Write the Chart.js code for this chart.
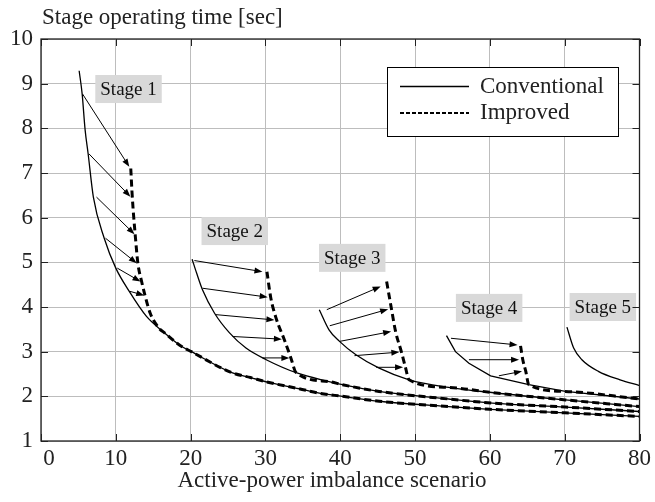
<!DOCTYPE html>
<html>
<head>
<meta charset="utf-8">
<title>Stage operating time</title>
<script src="https://cdn.jsdelivr.net/npm/chart.js@4.4.1/dist/chart.umd.min.js"></script>
<style>
  html, body { margin: 0; padding: 0; background: #fff; }
</style>
</head>
<body>
<canvas id="chartEtapas" width="655" height="502"></canvas>
<script>
const FONT = '"Liberation Serif", "Times New Roman", serif';

// --- conventional curves (solid), one per stage ---
const stage1X = [5.1, 5.5, 5.9, 6.3, 7.0, 8.45, 10.0, 11.8, 14.1, 16.3, 18.5, 20.1, 25.5, 28, 30.5, 34.5, 37.2, 40.3, 45.2, 54.5, 60, 70, 80];
const stage1Conv = [9.29, 8.77, 7.96, 7.43, 6.46, 5.54, 4.87, 4.35, 3.79, 3.45, 3.15, 3.0, 2.53, 2.42, 2.31, 2.17, 2.07, 2.0, 1.89, 1.77, 1.71, 1.63, 1.55];

const stage2X = [20.2, 20.8, 21.6, 23.2, 25.2, 27.4, 30.1, 34.1, 38.5, 40.3, 45.2, 54.5, 60.3, 70.1, 80];
const stage2Conv = [5.07, 4.76, 4.38, 3.86, 3.42, 3.08, 2.82, 2.53, 2.33, 2.26, 2.11, 1.94, 1.85, 1.76, 1.66];

const stage3X = [37.2, 38.5, 39.9, 42.1, 45.2, 49.2, 54.5, 60.5, 70.1, 80];
const stage3Conv = [3.94, 3.49, 3.23, 2.93, 2.63, 2.37, 2.20, 2.08, 1.92, 1.77];

const stage4X = [54.2, 55.4, 57.2, 60.1, 65.2, 70.1, 80];
const stage4Conv = [3.36, 3.0, 2.74, 2.46, 2.26, 2.11, 1.94];

const stage5X = [70.3, 71.2, 72.3, 74.5, 77.4, 80];
const stage5Conv = [3.55, 3.08, 2.82, 2.56, 2.37, 2.24];

// --- improved curves (dashed): shifted part, then they follow the conventional curve ---
const stage1ImpX = [12.0, 12.2, 12.6, 12.95, 13.45, 13.9, 14.6, 15.9];
const stage1Imp = [7.1, 6.47, 5.6, 4.98, 4.57, 4.26, 3.86, 3.5];

const stage2ImpX = [30.2, 30.7, 31.5, 32.5, 33.4, 34.1];
const stage2Imp = [4.79, 4.22, 3.71, 3.28, 2.86, 2.53];

const stage3ImpX = [46.2, 46.8, 47.4, 48.2, 48.7, 49.2];
const stage3Imp = [4.57, 4.0, 3.45, 2.98, 2.66, 2.37];

const stage4ImpX = [64.1, 64.4, 64.8, 65.2];
const stage4Imp = [3.13, 2.82, 2.56, 2.26];

// --- arrows: [x start, y start, x end, y end] ---
const stage1Arrows = [[5.55, 8.77, 11.8, 7.14], [6.4, 7.43, 11.95, 6.47], [7.42, 6.46, 12.5, 5.63],
                      [8.62, 5.54, 12.8, 4.98], [10.2, 4.87, 13.3, 4.57], [11.9, 4.35, 13.8, 4.26]];
const stage2Arrows = [[20.5, 5.04, 29.6, 4.79], [21.6, 4.42, 30.3, 4.22], [23.3, 3.83, 31.2, 3.71],
                      [25.6, 3.34, 32.2, 3.28], [29.6, 2.86, 33.2, 2.86]];
const stage3Arrows = [[38.2, 3.94, 45.4, 4.46], [38.6, 3.58, 46.4, 3.95], [39.9, 3.23, 46.8, 3.45],
                      [41.9, 2.91, 47.9, 2.99], [44.8, 2.65, 48.4, 2.65]];
const stage4Arrows = [[54.8, 3.30, 63.7, 3.15], [57.2, 2.82, 63.9, 2.82], [61.2, 2.46, 64.3, 2.56]];

// --- stage labels (centre in data units) ---
const stageNames = ['Stage 1', 'Stage 2', 'Stage 3', 'Stage 4', 'Stage 5'];
const stageLabelX = [11.7, 25.9, 41.6, 59.9, 75.1];
const stageLabelY = [8.88, 5.70, 5.10, 3.98, 4.0];

const xTicks = [0, 10, 20, 30, 40, 50, 60, 70, 80];
const yTicks = [1, 2, 3, 4, 5, 6, 7, 8, 9, 10];
const legendNames = ['Conventional', 'Improved'];
const yTitle = 'Stage operating time [sec]';
const xTitle = 'Active-power imbalance scenario';

function toPoints(xs, ys) {
    return xs.map(function(x, i) { return { x: x, y: ys[i] }; });
}

// dashed head + the rest of the conventional curve after the merge
function improvedPoints(headX, headY, convX, convY) {
    const pts = toPoints(headX, headY);
    const last = headX[headX.length - 1];
    convX.forEach(function(x, i) {
        if (x > last + 0.3) pts.push({ x: x, y: convY[i] });
    });
    return pts;
}

function solid(points, smooth) {
    return {
        data: points,
        borderColor: '#000',
        borderWidth: 1.3,
        pointRadius: 0,
        fill: false,
        cubicInterpolationMode: smooth ? 'monotone' : 'default',
        tension: 0
    };
}

function dashed(points) {
    return {
        data: points,
        borderColor: '#000',
        borderWidth: 3,
        borderDash: [7, 4],
        pointRadius: 0,
        fill: false,
        cubicInterpolationMode: 'monotone'
    };
}

const datasets = [
    solid(toPoints(stage1X, stage1Conv), true),
    solid(toPoints(stage2X, stage2Conv), true),
    solid(toPoints(stage3X, stage3Conv), true),
    solid(toPoints(stage4X, stage4Conv), false),
    solid(toPoints(stage5X, stage5Conv), true),
    dashed(improvedPoints(stage1ImpX, stage1Imp, stage1X, stage1Conv)),
    dashed(improvedPoints(stage2ImpX, stage2Imp, stage2X, stage2Conv)),
    dashed(improvedPoints(stage3ImpX, stage3Imp, stage3X, stage3Conv)),
    dashed(improvedPoints(stage4ImpX, stage4Imp, stage4X, stage4Conv))
];

const allArrows = stage1Arrows.concat(stage2Arrows, stage3Arrows, stage4Arrows);

function drawArrow(ctx, x0, y0, x1, y1) {
    const ang = Math.atan2(y1 - y0, x1 - x0);
    const len = 8, half = 3;
    ctx.beginPath();
    ctx.moveTo(x0, y0);
    ctx.lineTo(x1 - Math.cos(ang) * len * 0.8, y1 - Math.sin(ang) * len * 0.8);
    ctx.stroke();
    ctx.beginPath();
    ctx.moveTo(x1, y1);
    ctx.lineTo(x1 - Math.cos(ang) * len - Math.sin(ang) * half, y1 - Math.sin(ang) * len + Math.cos(ang) * half);
    ctx.lineTo(x1 - Math.cos(ang) * len + Math.sin(ang) * half, y1 - Math.sin(ang) * len - Math.cos(ang) * half);
    ctx.closePath();
    ctx.fill();
}

// arrows, stage labels, inward ticks, frame, legend and the axis titles
const decorPlugin = {
    id: 'decor',
    afterDatasetsDraw: function(chart) {
        const ctx = chart.ctx;
        const xs = chart.scales.x, ys = chart.scales.y;
        ctx.save();
        ctx.strokeStyle = '#000';
        ctx.fillStyle = '#000';
        ctx.lineWidth = 1;
        allArrows.forEach(function(a) {
            drawArrow(ctx, xs.getPixelForValue(a[0]), ys.getPixelForValue(a[1]),
                      xs.getPixelForValue(a[2]), ys.getPixelForValue(a[3]));
        });

        ctx.font = '19px ' + FONT;
        ctx.textAlign = 'center';
        ctx.textBaseline = 'middle';
        stageNames.forEach(function(name, i) {
            const cx = xs.getPixelForValue(stageLabelX[i]);
            const cy = ys.getPixelForValue(stageLabelY[i]);
            const w = ctx.measureText(name).width + 10;
            const h = 28;
            ctx.fillStyle = '#d9d9d9';
            ctx.fillRect(cx - w / 2, cy - h / 2, w, h);
            ctx.fillStyle = '#111';
            ctx.fillText(name, cx, cy + 1);
        });
        ctx.restore();
    },
    afterDraw: function(chart) {
        const ctx = chart.ctx;
        const area = chart.chartArea;
        const xs = chart.scales.x, ys = chart.scales.y;
        ctx.save();

        // inward tick marks on all four sides
        ctx.strokeStyle = '#222';
        ctx.lineWidth = 1;
        ctx.beginPath();
        xTicks.forEach(function(v) {
            const px = Math.round(xs.getPixelForValue(v)) + 0.5;
            ctx.moveTo(px, area.bottom); ctx.lineTo(px, area.bottom - 7);
            ctx.moveTo(px, area.top); ctx.lineTo(px, area.top + 7);
        });
        yTicks.forEach(function(v) {
            const py = Math.round(ys.getPixelForValue(v)) + 0.5;
            ctx.moveTo(area.left, py); ctx.lineTo(area.left + 7, py);
            ctx.moveTo(area.right, py); ctx.lineTo(area.right - 7, py);
        });
        ctx.stroke();

        // frame
        ctx.lineWidth = 1.3;
        ctx.strokeStyle = '#222';
        ctx.strokeRect(area.left, area.top, area.right - area.left, area.bottom - area.top);

        // legend
        const lx = 387, ly = 67, lw = 231, lh = 69;
        ctx.fillStyle = '#fff';
        ctx.fillRect(lx, ly, lw, lh);
        ctx.lineWidth = 1;
        ctx.strokeStyle = '#000';
        ctx.strokeRect(lx + 0.5, ly + 0.5, lw, lh);
        ctx.beginPath();
        ctx.lineWidth = 1.5;
        ctx.moveTo(400, 86.5); ctx.lineTo(469, 86.5);
        ctx.stroke();
        ctx.beginPath();
        ctx.lineWidth = 2;
        ctx.setLineDash([4, 2]);
        ctx.moveTo(400, 113); ctx.lineTo(469, 113);
        ctx.stroke();
        ctx.setLineDash([]);
        ctx.fillStyle = '#222';
        ctx.font = '23px ' + FONT;
        ctx.textAlign = 'left';
        ctx.textBaseline = 'middle';
        ctx.fillText(legendNames[0], 480, 87);
        ctx.fillText(legendNames[1], 480, 113);

        // first x tick label sits a little right of the axis
        ctx.textAlign = 'center';
        ctx.fillText(String(xTicks[0]), 49, area.bottom + 18);

        // axis titles
        ctx.textBaseline = 'alphabetic';
        ctx.textAlign = 'left';
        ctx.fillText(yTitle, 42, 24);
        ctx.textAlign = 'center';
        ctx.fillText(xTitle, 332, 487);
        ctx.restore();
    }
};

const ctx = document.getElementById('chartEtapas');
new Chart(ctx, {
    type: 'line',
    data: { datasets: datasets },
    options: {
        responsive: false,
        devicePixelRatio: 1,
        animation: false,
        layout: { padding: { left: 0, right: 14, top: 39, bottom: 0 } },
        scales: {
            x: {
                type: 'linear',
                min: 0,
                max: 80,
                afterBuildTicks: function(scale) {
                    scale.ticks = xTicks.map(function(v) { return { value: v }; });
                },
                afterFit: function(scale) { scale.height = 61; },
                ticks: {
                    color: '#222', padding: 4, maxRotation: 0, autoSkip: false,
                    font: { family: FONT, size: 23 },
                    callback: function(value) { return value === xTicks[0] ? '' : value; }
                },
                grid: { color: '#bdbdbd', lineWidth: 1, drawTicks: false },
                border: { display: false }
            },
            y: {
                type: 'linear',
                min: 1,
                max: 10,
                afterBuildTicks: function(scale) {
                    scale.ticks = yTicks.map(function(v) { return { value: v }; });
                },
                afterFit: function(scale) { scale.width = 41; },
                ticks: { color: '#222', padding: 8, font: { family: FONT, size: 23 } },
                grid: { color: '#bdbdbd', lineWidth: 1, drawTicks: false },
                border: { display: false }
            }
        },
        plugins: {
            legend: { display: false },
            tooltip: { enabled: false }
        }
    },
    plugins: [decorPlugin]
});
</script>
</body>
</html>
